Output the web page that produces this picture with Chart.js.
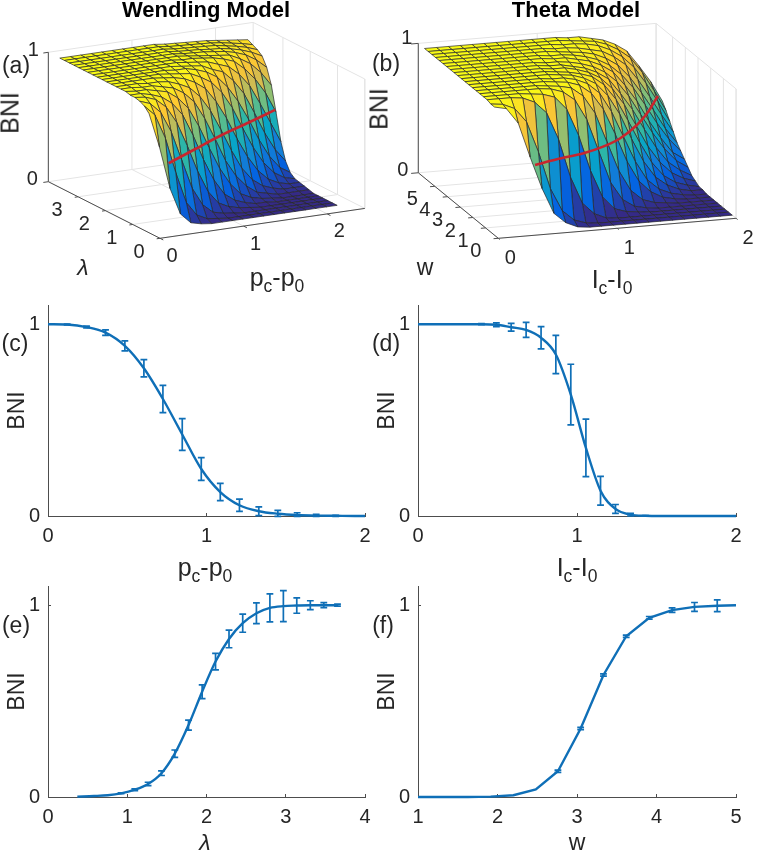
<!DOCTYPE html>
<html>
<head>
<meta charset="utf-8">
<script src="https://cdn.jsdelivr.net/npm/chart.js@4/dist/chart.umd.min.js"></script>
<style>
    body { margin: 0; background: #fff; }
    #page { position: relative; width: 757px; height: 852px; overflow: hidden; font-family: "Liberation Sans", sans-serif; color: #262626; }
    canvas { position: absolute; }
    .lbl { position: absolute; transform: translate(-50%, -50%); white-space: nowrap; line-height: 1; z-index: 5; }
    .lbl sub { font-size: 70%; vertical-align: -0.35em; line-height: 0; }
</style>
</head>
<body>
<div id="page">
    <canvas id="panelA" width="378" height="296" style="left:0;top:0"></canvas>
    <canvas id="panelB" width="379" height="296" style="left:378px;top:0"></canvas>
    <canvas id="panelC" width="378" height="256" style="left:0;top:295px"></canvas>
    <canvas id="panelD" width="380" height="256" style="left:370px;top:295px"></canvas>
    <canvas id="panelE" width="378" height="256" style="left:0;top:576px"></canvas>
    <canvas id="panelF" width="380" height="256" style="left:370px;top:576px"></canvas>
</div>
<script>
// panel (a) surface, Wendling model
const pGrid = [0, 0.125, 0.25, 0.375, 0.5, 0.625, 0.75, 0.875, 1, 1.125, 1.25, 1.375, 1.5, 1.625, 1.75, 1.875, 2, 2.125, 2.25];
const lambdaGrid = [0.4, 0.57, 0.74, 0.92, 1.09, 1.26, 1.43, 1.6, 1.78, 1.95, 2.12, 2.29, 2.46, 2.64, 2.81, 2.98, 3.15, 3.32, 3.5, 3.67];
const bniWendling = [
    [.92, .65, .32, .11, .03, .01, 0, 0, 0, 0, 0, 0, 0, 0, 0, 0, 0, 0, 0],
    [.96, .88, .69, .41, .17, .06, .02, .01, 0, 0, 0, 0, 0, 0, 0, 0, 0, 0, 0],
    [.98, .95, .87, .71, .48, .25, .11, .04, .02, .01, 0, 0, 0, 0, 0, 0, 0, 0, 0],
    [.99, .98, .95, .88, .75, .56, .35, .18, .08, .04, .02, .01, 0, 0, 0, 0, 0, 0, 0],
    [.99, .99, .97, .94, .88, .78, .61, .41, .24, .12, .06, .03, .01, .01, 0, 0, 0, 0, 0],
    [1, .99, .99, .97, .95, .89, .80, .65, .47, .30, .17, .08, .04, .02, .01, 0, 0, 0, 0],
    [1, 1, .99, .99, .97, .95, .90, .82, .68, .51, .33, .20, .11, .05, .03, .01, .01, .01, .01],
    [1, 1, 1, .99, .99, .98, .95, .91, .83, .71, .55, .38, .23, .13, .07, .04, .02, .02, .02],
    [1, 1, 1, 1, 1, .99, .98, .96, .92, .86, .75, .61, .44, .29, .17, .09, .05, .03, .03],
    [1, 1, 1, 1, 1, 1, .99, .98, .97, .93, .88, .79, .66, .49, .33, .20, .11, .06, .04],
    [1, 1, 1, 1, 1, 1, 1, .99, .99, .97, .94, .89, .80, .68, .53, .36, .22, .12, .07],
    [1, 1, 1, 1, 1, 1, 1, 1, .99, .98, .97, .93, .90, .82, .71, .55, .38, .24, .14],
    [1, 1, 1, 1, 1, 1, 1, 1, 1, .99, .98, .97, .94, .91, .84, .74, .59, .43, .27],
    [1, 1, 1, 1, 1, 1, 1, 1, 1, .99, .99, .98, .97, .95, .92, .85, .76, .64, .48],
    [1, 1, 1, 1, 1, 1, 1, 1, 1, 1, .99, .98, .97, .96, .95, .91, .86, .78, .67],
    [1, 1, 1, 1, 1, 1, 1, 1, 1, 1, .99, .985, .98, .97, .96, .94, .91, .86, .79],
    [1, 1, 1, 1, 1, 1, 1, 1, 1, 1, .99, .985, .98, .97, .965, .95, .93, .90, .86],
    [1, 1, 1, 1, 1, 1, 1, 1, 1, 1, .99, .985, .98, .975, .97, .955, .94, .92, .89],
    [1, 1, 1, 1, 1, 1, 1, 1, 1, 1, .99, .985, .98, .975, .97, .96, .945, .93, .91],
    [1, 1, 1, 1, 1, 1, 1, 1, 1, 1, .99, .985, .98, .975, .97, .96, .95, .94, .93]
];
const redWendlingP = [0.27, 0.77, 1.28, 1.76, 2.235];
const redWendlingLambda = [0.51, 1.08, 1.66, 2.14, 2.63];
const redWendlingBni = [0.5, 0.5, 0.5, 0.5, 0.5];

// panel (b) surface, Theta model
const iGrid = [0, 0.1, 0.2, 0.3, 0.4, 0.5, 0.6, 0.7, 0.8, 0.9, 1, 1.1, 1.2, 1.3, 1.4, 1.5, 1.6, 1.7, 1.8, 1.9, 2];
const wGrid = [0.3, 0.59, 0.88, 1.17, 1.46, 1.75, 2.04, 2.33, 2.62, 2.91, 3.2, 3.49, 3.78, 4.07, 4.36, 4.65, 4.94, 5.23, 5.52, 5.81];
const bniTheta = [
    [.99, .97, .85, .58, .33, .13, .05, .01, 0, 0, 0, 0, 0, 0, 0, 0, 0, 0, 0, 0, 0],
    [.99, .98, .94, .83, .59, .30, .12, .04, .01, 0, 0, 0, 0, 0, 0, 0, 0, 0, 0, 0, 0],
    [1, 1, 1, .99, .95, .86, .65, .35, .14, .05, .01, 0, 0, 0, 0, 0, 0, 0, 0, 0, 0],
    [1, 1, 1, 1, .99, .98, .95, .85, .64, .36, .15, .05, .02, .01, 0, 0, 0, 0, 0, 0, 0],
    [1, 1, 1, 1, 1, 1, .99, .96, .89, .73, .48, .23, .09, .03, .01, 0, 0, 0, 0, 0, 0],
    [1, 1, 1, 1, 1, 1, .99, .98, .96, .89, .75, .52, .29, .13, .05, .02, .01, 0, 0, 0, 0],
    [1, 1, 1, 1, 1, 1, 1, .99, .98, .95, .88, .75, .55, .33, .17, .08, .03, .01, 0, 0, 0],
    [1, 1, 1, 1, 1, 1, 1, .99, .99, .97, .93, .85, .70, .50, .30, .15, .07, .03, .01, 0, 0],
    [1, 1, 1, 1, 1, 1, 1, 1, .99, .98, .95, .90, .80, .65, .45, .27, .14, .07, .03, .01, .01],
    [1, 1, 1, 1, 1, 1, 1, 1, .99, .98, .96, .93, .86, .74, .57, .39, .23, .12, .06, .03, .01],
    [1, 1, 1, 1, 1, 1, 1, 1, .99, .99, .97, .94, .89, .80, .67, .50, .33, .20, .11, .06, .03],
    [1, 1, 1, 1, 1, 1, 1, 1, .99, .99, .97, .95, .91, .85, .73, .60, .44, .29, .17, .10, .05],
    [1, 1, 1, 1, 1, 1, 1, 1, .99, .99, .98, .96, .93, .88, .80, .68, .53, .38, .25, .15, .09],
    [1, 1, 1, 1, 1, 1, 1, 1, 1, .99, .99, .97, .95, .91, .85, .74, .61, .45, .31, .19, .13],
    [1, 1, 1, 1, 1, 1, 1, 1, 1, .99, .99, .98, .96, .93, .88, .80, .69, .55, .40, .27, .17],
    [1, 1, 1, 1, 1, 1, 1, 1, 1, 1, .99, .98, .97, .95, .91, .85, .75, .62, .48, .33, .21],
    [1, 1, 1, 1, 1, 1, 1, 1, 1, 1, .99, .99, .98, .96, .94, .89, .82, .70, .56, .41, .27],
    [1, 1, 1, 1, 1, 1, 1, 1, 1, 1, 1, .99, .99, .98, .96, .92, .86, .77, .64, .49, .33],
    [1, 1, 1, 1, 1, 1, 1, 1, 1, 1, 1, 1, .99, .98, .97, .94, .89, .82, .70, .55, .39],
    [1, 1, 1, 1, 1, 1, 1, 1, 1, 1, 1, 1, .99, .99, .97, .95, .91, .85, .73, .60, .44]
];
const redThetaI = [0.36, 0.58, 0.84, 1.05, 1.26, 1.51, 1.72, 1.94];
const redThetaW = [0.48, 0.82, 1.15, 1.58, 2.19, 3.22, 4.3, 5.6];
const redThetaBni = [0.5, 0.5, 0.5, 0.5, 0.5, 0.5, 0.5, 0.5];

// panel (c)
const pcX = [0, 0.121, 0.243, 0.363, 0.485, 0.605, 0.725, 0.847, 0.967, 1.087, 1.208, 1.33, 1.45, 1.572, 1.692, 1.815, 1.935, 2];
const pcY = [1, 0.998, 0.985, 0.956, 0.887, 0.77, 0.61, 0.425, 0.245, 0.125, 0.056, 0.025, 0.012, 0.005, 0.002, 0.001, 0, 0];
const pcErr = [0, 0.002, 0.005, 0.014, 0.026, 0.045, 0.071, 0.083, 0.059, 0.045, 0.032, 0.023, 0.017, 0.012, 0.007, 0.003, 0.001, 0];

// panel (d)
const icX = [0, 0.118, 0.212, 0.304, 0.399, 0.493, 0.586, 0.68, 0.774, 0.867, 0.961, 1.056, 1.148, 1.242, 1.337, 1.431, 1.525, 1.619, 1.713, 1.807, 1.901, 2];
const icY = [1, 1, 1, 1, 1, 0.997, 0.984, 0.97, 0.929, 0.842, 0.633, 0.355, 0.132, 0.037, 0.007, 0.001, 0, 0, 0, 0, 0, 0];
const icErr = [0, 0, 0, 0, 0.003, 0.01, 0.02, 0.039, 0.058, 0.1, 0.158, 0.15, 0.075, 0.023, 0.007, 0.001, 0, 0, 0, 0, 0, 0];

// panel (e)
const lambdaX = [0.37, 0.581, 0.754, 0.922, 1.095, 1.263, 1.432, 1.6, 1.773, 1.945, 2.114, 2.284, 2.457, 2.63, 2.8, 2.97, 3.139, 3.31, 3.48, 3.653];
const lambdaY = [0.002, 0.005, 0.009, 0.019, 0.038, 0.068, 0.124, 0.226, 0.375, 0.549, 0.706, 0.824, 0.906, 0.958, 0.986, 0.995, 0.998, 1, 1, 1];
const lambdaErr = [0, 0, 0, 0.002, 0.005, 0.009, 0.012, 0.019, 0.026, 0.036, 0.043, 0.046, 0.047, 0.054, 0.073, 0.081, 0.04, 0.023, 0.013, 0.005];

// panel (f)
const wX = [1, 1.055, 1.341, 1.627, 1.914, 2.2, 2.482, 2.76, 3.046, 3.333, 3.619, 3.909, 4.196, 4.478, 4.764, 5];
const wY = [0, 0, 0, 0, 0.002, 0.009, 0.04, 0.134, 0.357, 0.636, 0.838, 0.934, 0.974, 0.991, 0.997, 1];
const wErr = [0, 0, 0, 0, 0, 0, 0, 0.006, 0.006, 0.006, 0.006, 0.007, 0.012, 0.023, 0.031, 0];

// tick labels
const bniTicks = [0, 1];
const ticks02 = [0, 1, 2];
const ticks04 = [0, 1, 2, 3, 4];
const ticks15 = [1, 2, 3, 4, 5];
const lambdaTicks3d = [0, 1, 2, 3];
const wTicks3d = [0, 1, 2, 3, 4, 5];

const LINE_BLUE = "#0f6fb7";
const AXIS_GREY = "#4d4d4d";
const GRID_GREY = "#e4e4e4";
const TICK_FONT = "20px 'Liberation Sans'";

// parula, sampled at even steps
const parula = [
    [53, 42, 135], [3, 99, 225], [20, 129, 214], [6, 164, 202], [51, 184, 161],
    [134, 191, 118], [213, 187, 79], [254, 200, 50], [249, 251, 21]
];

function parulaColor(v) {
    const pos = Math.min(0.9999, Math.max(0, v)) * (parula.length - 1);
    const i = Math.floor(pos);
    const t = pos - i;
    const c = parula[i].map((a, k) => Math.round(a + (parula[i + 1][k] - a) * t));
    return `rgb(${c[0]},${c[1]},${c[2]})`;
}

// orthographic view: screen position per unit of each data axis
const viewA = { w: 378, h: 296, ox: 160, oy: 238.3, ax: 83.6, ay: -12.2, bx: -27.3, by: -13.84, zy: -129.4, aMax: 2.45, bMax: 4.09,
    aTicks: ticks02, bTicks: lambdaTicks3d, aOff: [12, 18], bOff: [-21, 14], zOff: [[-16, -2], [-15, -2]] };
const viewB = { w: 379, h: 296, ox: 120.3, oy: 238.3, ax: 118.9, ay: -10, bx: -12.7, by: -10.4, zy: -129.4, aMax: 2, bMax: 6.3,
    aTicks: ticks02, bTicks: wTicks3d, aOff: [12, 20], bOff: [-22.6, 13.5], zOff: [[-15.6, -2.7], [-11.6, -5]] };

function project(view, a, b, z) {
    return {
        x: view.ox + a * view.ax + b * view.bx,
        y: view.oy + a * view.ay + b * view.by + z * view.zy
    };
}

function lineSet(points, color, width) {
    return {
        data: points,
        showLine: true,
        borderColor: color,
        borderWidth: width,
        pointRadius: 0,
        fill: false,
        clip: false
    };
}

function boxDatasets(view) {
    const sets = [];
    const seg = (a1, b1, z1, a2, b2, z2, color, width) => {
        sets.push(lineSet([project(view, a1, b1, z1), project(view, a2, b2, z2)], color, width));
    };
    const A = view.aMax;
    const B = view.bMax;

    // floor and back walls
    view.aTicks.forEach(t => {
        seg(t, 0, 0, t, B, 0, GRID_GREY, 1);
        seg(t, B, 0, t, B, 1, GRID_GREY, 1);
    });
    view.bTicks.forEach(t => {
        seg(0, t, 0, A, t, 0, GRID_GREY, 1);
        seg(A, t, 0, A, t, 1, GRID_GREY, 1);
    });
    seg(0, B, 1, A, B, 1, GRID_GREY, 1);
    seg(A, B, 1, A, 0, 1, GRID_GREY, 1);
    seg(A, B, 0, A, B, 1, GRID_GREY, 1);
    seg(0, B, 0, A, B, 0, GRID_GREY, 1);
    seg(A, B, 0, A, 0, 0, GRID_GREY, 1);
    seg(A, 0, 0, A, 0, 1, GRID_GREY, 1);

    // axes in front
    seg(0, B, 0, 0, B, 1, AXIS_GREY, 1);
    seg(0, B, 0, 0, 0, 0, AXIS_GREY, 1);
    seg(0, 0, 0, A, 0, 0, AXIS_GREY, 1);
    view.aTicks.forEach(t => seg(t, 0, 0, t, -0.12, 0, AXIS_GREY, 1));
    view.bTicks.forEach(t => seg(0, t, 0, -0.04, t, 0, AXIS_GREY, 1));
    bniTicks.forEach(t => seg(0, B, t, -0.06, B, t, AXIS_GREY, 1));
    return sets;
}

function surfaceDatasets(view, colVals, rowVals, zRows) {
    const sets = [];
    // far cells first so the near ones cover them
    for (let j = rowVals.length - 2; j >= 0; j--) {
        for (let i = colVals.length - 2; i >= 0; i--) {
            const corner = (c, r) => project(view, colVals[c], rowVals[r], zRows[r][c]);
            sets.push({
                data: [corner(i, j), corner(i + 1, j), corner(i + 1, j + 1), corner(i, j + 1), corner(i, j)],
                showLine: true,
                fill: "shape",
                backgroundColor: parulaColor(zRows[j][i]),
                borderColor: "#26262a",
                borderWidth: 0.7,
                pointRadius: 0,
                clip: false
            });
        }
    }
    return sets;
}

function tickLabelPlugin(view) {
    return {
        id: "tickLabels3d",
        afterDatasetsDraw(chart) {
            const ctx = chart.ctx;
            const put = (text, pt, off) => {
                ctx.fillText(
                    text,
                    chart.scales.x.getPixelForValue(pt.x) + off[0],
                    chart.scales.y.getPixelForValue(pt.y) + off[1]
                );
            };
            ctx.save();
            ctx.font = TICK_FONT;
            ctx.fillStyle = "#262626";
            ctx.textAlign = "center";
            ctx.textBaseline = "middle";
            view.aTicks.forEach(t => put(String(t), project(view, t, 0, 0), view.aOff));
            view.bTicks.forEach(t => put(String(t), project(view, 0, t, 0), view.bOff));
            bniTicks.forEach(t => put(String(t), project(view, 0, view.bMax, t), view.zOff[t]));
            ctx.restore();
        }
    };
}

function surfaceChart(id, view, colVals, rowVals, zRows, redA, redB, redZ) {
    const red = lineSet(redA.map((a, i) => project(view, a, redB[i], redZ[i])), "#c9252d", 2.6);
    red.tension = 0.3;
    // chart.js paints the first dataset last, so flip the painter order
    const datasets = [...boxDatasets(view), ...surfaceDatasets(view, colVals, rowVals, zRows), red].reverse();

    new Chart(document.getElementById(id), {
        type: "scatter",
        data: { datasets },
        plugins: [tickLabelPlugin(view)],
        options: {
            responsive: false,
            animation: false,
            events: [],
            layout: { padding: 0 },
            plugins: { legend: { display: false }, tooltip: { enabled: false } },
            scales: {
                x: { type: "linear", display: false, min: 0, max: view.w },
                y: { type: "linear", display: false, min: 0, max: view.h, reverse: true }
            }
        }
    });
}

function errorBarPlugin(xs, ys, errs) {
    return {
        id: "errorBars",
        afterDatasetsDraw(chart) {
            const { ctx, scales } = chart;
            ctx.save();
            ctx.strokeStyle = LINE_BLUE;
            ctx.lineWidth = 1.7;
            xs.forEach((x, i) => {
                if (!errs[i]) return;
                const px = scales.x.getPixelForValue(x);
                const hi = scales.y.getPixelForValue(ys[i] + errs[i]);
                const lo = scales.y.getPixelForValue(Math.max(ys[i] - errs[i], -0.002));
                ctx.beginPath();
                ctx.moveTo(px, hi);
                ctx.lineTo(px, lo);
                ctx.moveTo(px - 3.4, hi);
                ctx.lineTo(px + 3.4, hi);
                ctx.moveTo(px - 3.4, lo);
                ctx.lineTo(px + 3.4, lo);
                ctx.stroke();
            });
            ctx.restore();
        }
    };
}

function curveChart(id, xs, ys, errs, xMin, xMax, xTicks, smooth, rightPad, top) {
    new Chart(document.getElementById(id), {
        type: "scatter",
        data: {
            datasets: [{
                data: xs.map((x, i) => ({ x: x, y: ys[i] })),
                showLine: true,
                borderColor: LINE_BLUE,
                borderWidth: 2.4,
                pointRadius: 0,
                cubicInterpolationMode: smooth ? "monotone" : "default",
                clip: 4
            }]
        },
        plugins: [errorBarPlugin(xs, ys, errs)],
        options: {
            responsive: false,
            animation: false,
            events: [],
            layout: { padding: { top: top, right: rightPad, left: 0, bottom: 0 } },
            plugins: { legend: { display: false }, tooltip: { enabled: false } },
            scales: {
                x: {
                    type: "linear",
                    min: xMin,
                    max: xMax,
                    afterBuildTicks: axis => { axis.ticks = xTicks.map(v => ({ value: v })); },
                    afterFit: axis => { axis.height = 35; axis.paddingLeft = 0; axis.paddingRight = 0; },
                    border: { color: AXIS_GREY, width: 1 },
                    grid: { drawOnChartArea: false, tickLength: -3, color: AXIS_GREY },
                    ticks: { color: "#262626", font: { family: "Liberation Sans", size: 20 }, padding: 11, maxRotation: 0, autoSkip: false }
                },
                y: {
                    type: "linear",
                    min: 0,
                    max: 1.1,
                    afterBuildTicks: axis => { axis.ticks = bniTicks.map(v => ({ value: v })); },
                    afterFit: axis => { axis.width = 48; axis.paddingTop = 0; axis.paddingBottom = 0; },
                    border: { color: AXIS_GREY, width: 1 },
                    grid: { drawOnChartArea: false, tickLength: -3, color: AXIS_GREY },
                    title: { display: true, text: "BNI", color: "#262626", font: { family: "Liberation Sans", size: 23 }, padding: { top: 4, bottom: 0 } },
                    ticks: { color: "#262626", font: { family: "Liberation Sans", size: 20 }, padding: 11 }
                }
            }
        }
    });
}

surfaceChart("panelA", viewA, pGrid, lambdaGrid, bniWendling, redWendlingP, redWendlingLambda, redWendlingBni);
surfaceChart("panelB", viewB, iGrid, wGrid, bniTheta, redThetaI, redThetaW, redThetaBni);
curveChart("panelC", pcX, pcY, pcErr, 0, 2, ticks02, true, 13, 10);
curveChart("panelD", icX, icY, icErr, 0, 2, ticks02, true, 14, 10);
curveChart("panelE", lambdaX, lambdaY, lambdaErr, 0, 4, ticks04, true, 13, 10);
curveChart("panelF", wX, wY, wErr, 1, 5, ticks15, false, 14, 10);

// text that the axes cannot set: titles, panel tags, subscripted labels
const page = document.getElementById("page");

function addLabel(html, x, y, size, extra) {
    const el = document.createElement("div");
    el.className = "lbl";
    el.innerHTML = html;
    el.style.left = x + "px";
    el.style.top = y + "px";
    el.style.fontSize = size + "px";
    if (extra) el.style.cssText += extra;
    page.appendChild(el);
}

const bold = "font-weight:bold;color:#000;";
const rotated = "transform:translate(-50%,-50%) rotate(-90deg);";
const pLabel = "p<sub>c</sub>-p<sub>0</sub>";
const iLabel = "I<sub>c</sub>-I<sub>0</sub>";

addLabel("Wendling Model", 206, 10, 22, bold);
addLabel("Theta Model", 576, 10, 22, bold);
addLabel("(a)", 16, 65, 23);
addLabel("(b)", 386, 63, 23);
addLabel("(c)", 15, 343, 23);
addLabel("(d)", 386, 343, 23);
addLabel("(e)", 16, 625, 23);
addLabel("(f)", 383, 625, 23);
addLabel("BNI", 10, 113, 25, rotated);
addLabel("BNI", 379, 109, 25, rotated);
addLabel("&lambda;", 83, 267, 23, "font-style:italic;");
addLabel("w", 425, 267, 23);
addLabel(pLabel, 277, 277, 25);
addLabel(iLabel, 612, 279, 25);
addLabel(pLabel, 205, 567, 25);
addLabel(iLabel, 577, 567, 25);
addLabel("&lambda;", 205, 842, 23, "font-style:italic;");
addLabel("w", 577, 842, 23);
</script>
</body>
</html>
